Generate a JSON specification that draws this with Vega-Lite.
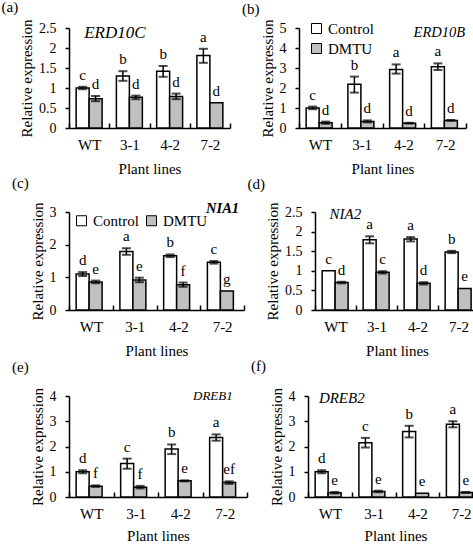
{
  "$schema": "https://vega.github.io/schema/vega-lite/v6.json",
  "padding": {"left": 1, "top": 0, "right": 0, "bottom": 0},
  "datasets": {
    "d": [
      {"panel": "a", "line": "WT", "trt": "Control", "v": 1.0, "lo": 0.97, "hi": 1.03, "lab": "c"},
      {"panel": "a", "line": "3-1", "trt": "Control", "v": 1.30, "lo": 1.18, "hi": 1.42, "lab": "b"},
      {"panel": "a", "line": "4-2", "trt": "Control", "v": 1.42, "lo": 1.28, "hi": 1.55, "lab": "b"},
      {"panel": "a", "line": "7-2", "trt": "Control", "v": 1.81, "lo": 1.63, "hi": 1.98, "lab": "a"},
      {"panel": "a", "line": "WT", "trt": "DMTU", "v": 0.73, "lo": 0.67, "hi": 0.80, "lab": "d"},
      {"panel": "a", "line": "3-1", "trt": "DMTU", "v": 0.77, "lo": 0.72, "hi": 0.81, "lab": "d"},
      {"panel": "a", "line": "4-2", "trt": "DMTU", "v": 0.79, "lo": 0.72, "hi": 0.86, "lab": "d"},
      {"panel": "a", "line": "7-2", "trt": "DMTU", "v": 0.63, "lo": 0.63, "hi": 0.63, "lab": "d"},
      {"panel": "b", "line": "WT", "trt": "Control", "v": 1.0, "lo": 0.94, "hi": 1.07, "lab": "c"},
      {"panel": "b", "line": "3-1", "trt": "Control", "v": 2.19, "lo": 1.77, "hi": 2.57, "lab": "b"},
      {"panel": "b", "line": "4-2", "trt": "Control", "v": 2.93, "lo": 2.72, "hi": 3.18, "lab": "a"},
      {"panel": "b", "line": "7-2", "trt": "Control", "v": 3.06, "lo": 2.90, "hi": 3.23, "lab": "a"},
      {"panel": "b", "line": "WT", "trt": "DMTU", "v": 0.26, "lo": 0.21, "hi": 0.32, "lab": "d"},
      {"panel": "b", "line": "3-1", "trt": "DMTU", "v": 0.33, "lo": 0.28, "hi": 0.38, "lab": "d"},
      {"panel": "b", "line": "4-2", "trt": "DMTU", "v": 0.24, "lo": 0.22, "hi": 0.26, "lab": "d"},
      {"panel": "b", "line": "7-2", "trt": "DMTU", "v": 0.38, "lo": 0.36, "hi": 0.40, "lab": "d"},
      {"panel": "c", "line": "WT", "trt": "Control", "v": 1.10, "lo": 1.04, "hi": 1.16, "lab": "d"},
      {"panel": "c", "line": "3-1", "trt": "Control", "v": 1.79, "lo": 1.69, "hi": 1.89, "lab": "a"},
      {"panel": "c", "line": "4-2", "trt": "Control", "v": 1.66, "lo": 1.62, "hi": 1.70, "lab": "b"},
      {"panel": "c", "line": "7-2", "trt": "Control", "v": 1.46, "lo": 1.42, "hi": 1.50, "lab": "c"},
      {"panel": "c", "line": "WT", "trt": "DMTU", "v": 0.86, "lo": 0.82, "hi": 0.90, "lab": "e"},
      {"panel": "c", "line": "3-1", "trt": "DMTU", "v": 0.92, "lo": 0.85, "hi": 0.99, "lab": "e"},
      {"panel": "c", "line": "4-2", "trt": "DMTU", "v": 0.77, "lo": 0.71, "hi": 0.84, "lab": "f"},
      {"panel": "c", "line": "7-2", "trt": "DMTU", "v": 0.58, "lo": 0.58, "hi": 0.58, "lab": "g"},
      {"panel": "d", "line": "WT", "trt": "Control", "v": 1.0, "lo": 1.0, "hi": 1.0, "lab": "c"},
      {"panel": "d", "line": "3-1", "trt": "Control", "v": 1.79, "lo": 1.70, "hi": 1.88, "lab": "a"},
      {"panel": "d", "line": "4-2", "trt": "Control", "v": 1.81, "lo": 1.75, "hi": 1.86, "lab": "a"},
      {"panel": "d", "line": "7-2", "trt": "Control", "v": 1.48, "lo": 1.45, "hi": 1.51, "lab": "b"},
      {"panel": "d", "line": "WT", "trt": "DMTU", "v": 0.70, "lo": 0.68, "hi": 0.72, "lab": "d"},
      {"panel": "d", "line": "3-1", "trt": "DMTU", "v": 0.96, "lo": 0.93, "hi": 0.99, "lab": "c"},
      {"panel": "d", "line": "4-2", "trt": "DMTU", "v": 0.68, "lo": 0.65, "hi": 0.71, "lab": "d"},
      {"panel": "d", "line": "7-2", "trt": "DMTU", "v": 0.55, "lo": 0.55, "hi": 0.55, "lab": "e"},
      {"panel": "e", "line": "WT", "trt": "Control", "v": 1.0, "lo": 0.94, "hi": 1.06, "lab": "d"},
      {"panel": "e", "line": "3-1", "trt": "Control", "v": 1.33, "lo": 1.12, "hi": 1.52, "lab": "c"},
      {"panel": "e", "line": "4-2", "trt": "Control", "v": 1.90, "lo": 1.70, "hi": 2.08, "lab": "b"},
      {"panel": "e", "line": "7-2", "trt": "Control", "v": 2.36, "lo": 2.23, "hi": 2.48, "lab": "a"},
      {"panel": "e", "line": "WT", "trt": "DMTU", "v": 0.43, "lo": 0.40, "hi": 0.46, "lab": "f"},
      {"panel": "e", "line": "3-1", "trt": "DMTU", "v": 0.39, "lo": 0.34, "hi": 0.44, "lab": "f"},
      {"panel": "e", "line": "4-2", "trt": "DMTU", "v": 0.64, "lo": 0.62, "hi": 0.66, "lab": "e"},
      {"panel": "e", "line": "7-2", "trt": "DMTU", "v": 0.57, "lo": 0.52, "hi": 0.62, "lab": "ef"},
      {"panel": "f", "line": "WT", "trt": "Control", "v": 1.0, "lo": 0.94, "hi": 1.06, "lab": "d"},
      {"panel": "f", "line": "3-1", "trt": "Control", "v": 2.15, "lo": 1.96, "hi": 2.34, "lab": "c"},
      {"panel": "f", "line": "4-2", "trt": "Control", "v": 2.59, "lo": 2.36, "hi": 2.82, "lab": "b"},
      {"panel": "f", "line": "7-2", "trt": "Control", "v": 2.88, "lo": 2.76, "hi": 3.0, "lab": "a"},
      {"panel": "f", "line": "WT", "trt": "DMTU", "v": 0.17, "lo": 0.14, "hi": 0.20, "lab": "e"},
      {"panel": "f", "line": "3-1", "trt": "DMTU", "v": 0.22, "lo": 0.19, "hi": 0.25, "lab": "e"},
      {"panel": "f", "line": "4-2", "trt": "DMTU", "v": 0.15, "lo": 0.15, "hi": 0.15, "lab": "e"},
      {"panel": "f", "line": "7-2", "trt": "DMTU", "v": 0.18, "lo": 0.16, "hi": 0.20, "lab": "e"}
    ]
  },
  "resolve": {"scale": {"fill": "independent"}, "legend": {"fill": "independent"}},
  "spacing": 0,
  "vconcat": [
    {
      "resolve": {"scale": {"fill": "independent"}, "legend": {"fill": "independent"}},
      "spacing": 10,
      "hconcat": [
        {
          "width": 161, "height": 100,
          "title": {"text": "(a)", "offset": 4},
          "data": {"name": "d"},
          "transform": [{"filter": "datum.panel == 'a'"}],
          "encoding": {
            "x": {"field": "line", "type": "nominal", "sort": ["WT", "3-1", "4-2", "7-2"], "scale": {"paddingInner": 0, "paddingOuter": 0}, "axis": {"title": "Plant lines"}}
          },
          "layer": [
            {"mark": {"type": "bar", "stroke": "black", "strokeWidth": 1.5},
             "encoding": {
               "xOffset": {"field": "trt", "type": "nominal", "sort": ["Control", "DMTU"], "scale": {"paddingOuter": 0.55, "paddingInner": 0}},
               "y": {"field": "v", "type": "quantitative", "scale": {"domain": [0, 2.5], "nice": false}, "axis": {"title": "Relative expression", "values": [0, 0.5, 1, 1.5, 2, 2.5]}},
               "fill": {"field": "trt", "type": "nominal", "scale": {"domain": ["Control", "DMTU"], "range": ["white", "#c0c0c0"]}, "legend": null}}},
            {"transform": [{"filter": "datum.hi > datum.lo"}], "mark": {"type": "rule", "strokeWidth": 1.5, "color": "black"},
             "encoding": {"xOffset": {"field": "trt", "type": "nominal", "sort": ["Control", "DMTU"]}, "y": {"field": "lo", "type": "quantitative", "axis": {"title": "Relative expression", "values": [0, 0.5, 1, 1.5, 2, 2.5]}}, "y2": {"field": "hi"}}},
            {"transform": [{"filter": "datum.hi > datum.lo"}], "mark": {"type": "tick", "color": "black", "thickness": 2, "size": 9},
             "encoding": {"xOffset": {"field": "trt", "type": "nominal", "sort": ["Control", "DMTU"]}, "y": {"field": "hi", "type": "quantitative", "axis": {"title": "Relative expression", "values": [0, 0.5, 1, 1.5, 2, 2.5]}}}},
            {"transform": [{"filter": "datum.hi > datum.lo"}], "mark": {"type": "tick", "color": "black", "thickness": 2, "size": 9},
             "encoding": {"xOffset": {"field": "trt", "type": "nominal", "sort": ["Control", "DMTU"]}, "y": {"field": "lo", "type": "quantitative", "axis": {"title": "Relative expression", "values": [0, 0.5, 1, 1.5, 2, 2.5]}}}},
            {"mark": {"type": "text", "baseline": "bottom", "dy": -4, "fontSize": 15},
             "encoding": {"xOffset": {"field": "trt", "type": "nominal", "sort": ["Control", "DMTU"]}, "y": {"field": "hi", "type": "quantitative", "axis": {"title": "Relative expression", "values": [0, 0.5, 1, 1.5, 2, 2.5]}}, "text": {"field": "lab"}}},
            {"data": {"values": [{"gene": "ERD10C"}]},
             "mark": {"type": "text", "fontStyle": "italic", "fontSize": 17, "align": "left", "baseline": "alphabetic", "dx": -5, "dy": 10},
             "encoding": {"x": {"datum": "WT"}, "y": {"datum": 2.5, "axis": {"title": "Relative expression", "values": [0, 0.5, 1, 1.5, 2, 2.5]}}, "text": {"field": "gene"}}}
          ]
        },
        {
          "width": 167, "height": 100,
          "title": {"text": "(b)", "offset": 2.5},
          "data": {"name": "d"},
          "transform": [{"filter": "datum.panel == 'b'"}],
          "encoding": {
            "x": {"field": "line", "type": "nominal", "sort": ["WT", "3-1", "4-2", "7-2"], "scale": {"paddingInner": 0, "paddingOuter": 0}, "axis": {"title": "Plant lines"}}
          },
          "layer": [
            {"mark": {"type": "bar", "stroke": "black", "strokeWidth": 1.5},
             "encoding": {
               "xOffset": {"field": "trt", "type": "nominal", "sort": ["Control", "DMTU"], "scale": {"paddingOuter": 0.57, "paddingInner": 0}},
               "y": {"field": "v", "type": "quantitative", "scale": {"domain": [0, 5], "nice": false}, "axis": {"title": "Relative expression", "values": [0, 1, 2, 3, 4, 5]}},
               "fill": {"field": "trt", "type": "nominal", "scale": {"domain": ["Control", "DMTU"], "range": ["white", "#c0c0c0"]},
                        "legend": {"title": null, "orient": "none", "legendX": 10, "legendY": -7, "direction": "vertical"}}}},
            {"transform": [{"filter": "datum.hi > datum.lo"}], "mark": {"type": "rule", "strokeWidth": 1.5, "color": "black"},
             "encoding": {"xOffset": {"field": "trt", "type": "nominal", "sort": ["Control", "DMTU"]}, "y": {"field": "lo", "type": "quantitative", "axis": {"title": "Relative expression", "values": [0, 1, 2, 3, 4, 5]}}, "y2": {"field": "hi"}}},
            {"transform": [{"filter": "datum.hi > datum.lo"}], "mark": {"type": "tick", "color": "black", "thickness": 2, "size": 9},
             "encoding": {"xOffset": {"field": "trt", "type": "nominal", "sort": ["Control", "DMTU"]}, "y": {"field": "hi", "type": "quantitative", "axis": {"title": "Relative expression", "values": [0, 1, 2, 3, 4, 5]}}}},
            {"transform": [{"filter": "datum.hi > datum.lo"}], "mark": {"type": "tick", "color": "black", "thickness": 2, "size": 9},
             "encoding": {"xOffset": {"field": "trt", "type": "nominal", "sort": ["Control", "DMTU"]}, "y": {"field": "lo", "type": "quantitative", "axis": {"title": "Relative expression", "values": [0, 1, 2, 3, 4, 5]}}}},
            {"mark": {"type": "text", "baseline": "bottom", "dy": -4, "fontSize": 15},
             "encoding": {"xOffset": {"field": "trt", "type": "nominal", "sort": ["Control", "DMTU"]}, "y": {"field": "hi", "type": "quantitative", "axis": {"title": "Relative expression", "values": [0, 1, 2, 3, 4, 5]}}, "text": {"field": "lab"}}},
            {"data": {"values": [{"gene": "ERD10B"}]},
             "mark": {"type": "text", "fontStyle": "italic", "fontSize": 14.5, "align": "right", "baseline": "alphabetic", "dx": 20, "dy": 8.5},
             "encoding": {"x": {"datum": "7-2"}, "y": {"datum": 5, "axis": {"title": "Relative expression", "values": [0, 1, 2, 3, 4, 5]}}, "text": {"field": "gene"}}}
          ]
        }
      ]
    },
    {
      "resolve": {"scale": {"fill": "independent"}, "legend": {"fill": "independent"}},
      "spacing": 2,
      "hconcat": [
        {
          "width": 175, "height": 98,
          "title": {"text": "(c)", "offset": 10},
          "data": {"name": "d"},
          "transform": [{"filter": "datum.panel == 'c'"}],
          "encoding": {
            "x": {"field": "line", "type": "nominal", "sort": ["WT", "3-1", "4-2", "7-2"], "scale": {"paddingInner": 0, "paddingOuter": 0}, "axis": {"title": "Plant lines"}}
          },
          "layer": [
            {"mark": {"type": "bar", "stroke": "black", "strokeWidth": 1.5},
             "encoding": {
               "xOffset": {"field": "trt", "type": "nominal", "sort": ["Control", "DMTU"], "scale": {"paddingOuter": 0.75, "paddingInner": 0}},
               "y": {"field": "v", "type": "quantitative", "scale": {"domain": [0, 3], "nice": false}, "axis": {"title": "Relative expression", "values": [0, 1, 2, 3]}},
               "fill": {"field": "trt", "type": "nominal", "scale": {"domain": ["Control", "DMTU"], "range": ["white", "#c0c0c0"]},
                        "legend": {"title": null, "orient": "none", "legendX": 5, "legendY": 1, "direction": "horizontal"}}}},
            {"transform": [{"filter": "datum.hi > datum.lo"}], "mark": {"type": "rule", "strokeWidth": 1.5, "color": "black"},
             "encoding": {"xOffset": {"field": "trt", "type": "nominal", "sort": ["Control", "DMTU"]}, "y": {"field": "lo", "type": "quantitative", "axis": {"title": "Relative expression", "values": [0, 1, 2, 3]}}, "y2": {"field": "hi"}}},
            {"transform": [{"filter": "datum.hi > datum.lo"}], "mark": {"type": "tick", "color": "black", "thickness": 2, "size": 9},
             "encoding": {"xOffset": {"field": "trt", "type": "nominal", "sort": ["Control", "DMTU"]}, "y": {"field": "hi", "type": "quantitative", "axis": {"title": "Relative expression", "values": [0, 1, 2, 3]}}}},
            {"transform": [{"filter": "datum.hi > datum.lo"}], "mark": {"type": "tick", "color": "black", "thickness": 2, "size": 9},
             "encoding": {"xOffset": {"field": "trt", "type": "nominal", "sort": ["Control", "DMTU"]}, "y": {"field": "lo", "type": "quantitative", "axis": {"title": "Relative expression", "values": [0, 1, 2, 3]}}}},
            {"mark": {"type": "text", "baseline": "bottom", "dy": -4, "fontSize": 15},
             "encoding": {"xOffset": {"field": "trt", "type": "nominal", "sort": ["Control", "DMTU"]}, "y": {"field": "hi", "type": "quantitative", "axis": {"title": "Relative expression", "values": [0, 1, 2, 3]}}, "text": {"field": "lab"}}},
            {"data": {"values": [{"gene": "NIA1"}]},
             "mark": {"type": "text", "fontStyle": "italic", "fontWeight": "bold", "fontSize": 14.5, "align": "right", "baseline": "alphabetic", "dx": 17, "dy": 1},
             "encoding": {"x": {"datum": "7-2"}, "y": {"datum": 3, "axis": {"title": "Relative expression", "values": [0, 1, 2, 3]}}, "text": {"field": "gene"}}}
          ]
        },
        {
          "width": 164, "height": 98,
          "title": {"text": "(d)", "offset": 10.5},
          "data": {"name": "d"},
          "transform": [{"filter": "datum.panel == 'd'"}],
          "encoding": {
            "x": {"field": "line", "type": "nominal", "sort": ["WT", "3-1", "4-2", "7-2"], "scale": {"paddingInner": 0, "paddingOuter": 0}, "axis": {"title": "Plant lines"}}
          },
          "layer": [
            {"mark": {"type": "bar", "stroke": "black", "strokeWidth": 1.5},
             "encoding": {
               "xOffset": {"field": "trt", "type": "nominal", "sort": ["Control", "DMTU"], "scale": {"paddingOuter": 0.6, "paddingInner": 0}},
               "y": {"field": "v", "type": "quantitative", "scale": {"domain": [0, 2.5], "nice": false}, "axis": {"title": "Relative expression", "values": [0, 0.5, 1, 1.5, 2, 2.5]}},
               "fill": {"field": "trt", "type": "nominal", "scale": {"domain": ["Control", "DMTU"], "range": ["white", "#c0c0c0"]}, "legend": null}}},
            {"transform": [{"filter": "datum.hi > datum.lo"}], "mark": {"type": "rule", "strokeWidth": 1.5, "color": "black"},
             "encoding": {"xOffset": {"field": "trt", "type": "nominal", "sort": ["Control", "DMTU"]}, "y": {"field": "lo", "type": "quantitative", "axis": {"title": "Relative expression", "values": [0, 0.5, 1, 1.5, 2, 2.5]}}, "y2": {"field": "hi"}}},
            {"transform": [{"filter": "datum.hi > datum.lo"}], "mark": {"type": "tick", "color": "black", "thickness": 2, "size": 9},
             "encoding": {"xOffset": {"field": "trt", "type": "nominal", "sort": ["Control", "DMTU"]}, "y": {"field": "hi", "type": "quantitative", "axis": {"title": "Relative expression", "values": [0, 0.5, 1, 1.5, 2, 2.5]}}}},
            {"transform": [{"filter": "datum.hi > datum.lo"}], "mark": {"type": "tick", "color": "black", "thickness": 2, "size": 9},
             "encoding": {"xOffset": {"field": "trt", "type": "nominal", "sort": ["Control", "DMTU"]}, "y": {"field": "lo", "type": "quantitative", "axis": {"title": "Relative expression", "values": [0, 0.5, 1, 1.5, 2, 2.5]}}}},
            {"mark": {"type": "text", "baseline": "bottom", "dy": -4, "fontSize": 15},
             "encoding": {"xOffset": {"field": "trt", "type": "nominal", "sort": ["Control", "DMTU"]}, "y": {"field": "hi", "type": "quantitative", "axis": {"title": "Relative expression", "values": [0, 0.5, 1, 1.5, 2, 2.5]}}, "text": {"field": "lab"}}},
            {"data": {"values": [{"gene": "NIA2"}]},
             "mark": {"type": "text", "fontStyle": "italic", "fontSize": 15, "align": "left", "baseline": "alphabetic", "dx": -6, "dy": 7},
             "encoding": {"x": {"datum": "WT"}, "y": {"datum": 2.5, "axis": {"title": "Relative expression", "values": [0, 0.5, 1, 1.5, 2, 2.5]}}, "text": {"field": "gene"}}}
          ]
        }
      ]
    },
    {
      "resolve": {"scale": {"fill": "independent"}, "legend": {"fill": "independent"}},
      "spacing": 2,
      "hconcat": [
        {
          "width": 178, "height": 101,
          "title": {"text": "(e)", "offset": 13},
          "data": {"name": "d"},
          "transform": [{"filter": "datum.panel == 'e'"}],
          "encoding": {
            "x": {"field": "line", "type": "nominal", "sort": ["WT", "3-1", "4-2", "7-2"], "scale": {"paddingInner": 0, "paddingOuter": 0}, "axis": {"title": "Plant lines", "titlePadding": 7}}
          },
          "layer": [
            {"mark": {"type": "bar", "stroke": "black", "strokeWidth": 1.5},
             "encoding": {
               "xOffset": {"field": "trt", "type": "nominal", "sort": ["Control", "DMTU"], "scale": {"paddingOuter": 0.71, "paddingInner": 0}},
               "y": {"field": "v", "type": "quantitative", "scale": {"domain": [0, 4], "nice": false}, "axis": {"title": "Relative expression", "values": [0, 1, 2, 3, 4]}},
               "fill": {"field": "trt", "type": "nominal", "scale": {"domain": ["Control", "DMTU"], "range": ["white", "#c0c0c0"]}, "legend": null}}},
            {"transform": [{"filter": "datum.hi > datum.lo"}], "mark": {"type": "rule", "strokeWidth": 1.5, "color": "black"},
             "encoding": {"xOffset": {"field": "trt", "type": "nominal", "sort": ["Control", "DMTU"]}, "y": {"field": "lo", "type": "quantitative", "axis": {"title": "Relative expression", "values": [0, 1, 2, 3, 4]}}, "y2": {"field": "hi"}}},
            {"transform": [{"filter": "datum.hi > datum.lo"}], "mark": {"type": "tick", "color": "black", "thickness": 2, "size": 9},
             "encoding": {"xOffset": {"field": "trt", "type": "nominal", "sort": ["Control", "DMTU"]}, "y": {"field": "hi", "type": "quantitative", "axis": {"title": "Relative expression", "values": [0, 1, 2, 3, 4]}}}},
            {"transform": [{"filter": "datum.hi > datum.lo"}], "mark": {"type": "tick", "color": "black", "thickness": 2, "size": 9},
             "encoding": {"xOffset": {"field": "trt", "type": "nominal", "sort": ["Control", "DMTU"]}, "y": {"field": "lo", "type": "quantitative", "axis": {"title": "Relative expression", "values": [0, 1, 2, 3, 4]}}}},
            {"mark": {"type": "text", "baseline": "bottom", "dy": -4, "fontSize": 15},
             "encoding": {"xOffset": {"field": "trt", "type": "nominal", "sort": ["Control", "DMTU"]}, "y": {"field": "hi", "type": "quantitative", "axis": {"title": "Relative expression", "values": [0, 1, 2, 3, 4]}}, "text": {"field": "lab"}}},
            {"data": {"values": [{"gene": "DREB1"}]},
             "mark": {"type": "text", "fontStyle": "italic", "fontSize": 13, "align": "right", "baseline": "alphabetic", "dx": 8, "dy": 4},
             "encoding": {"x": {"datum": "7-2"}, "y": {"datum": 4, "axis": {"title": "Relative expression", "values": [0, 1, 2, 3, 4]}}, "text": {"field": "gene"}}}
          ]
        },
        {
          "width": 175, "height": 101,
          "title": {"text": "(f)", "offset": 14},
          "data": {"name": "d"},
          "transform": [{"filter": "datum.panel == 'f'"}],
          "encoding": {
            "x": {"field": "line", "type": "nominal", "sort": ["WT", "3-1", "4-2", "7-2"], "scale": {"paddingInner": 0, "paddingOuter": 0}, "axis": {"title": "Plant lines", "titlePadding": 7}}
          },
          "layer": [
            {"mark": {"type": "bar", "stroke": "black", "strokeWidth": 1.5},
             "encoding": {
               "xOffset": {"field": "trt", "type": "nominal", "sort": ["Control", "DMTU"], "scale": {"paddingOuter": 0.72, "paddingInner": 0}},
               "y": {"field": "v", "type": "quantitative", "scale": {"domain": [0, 4], "nice": false}, "axis": {"title": "Relative expression", "values": [0, 1, 2, 3, 4]}},
               "fill": {"field": "trt", "type": "nominal", "scale": {"domain": ["Control", "DMTU"], "range": ["white", "#c0c0c0"]}, "legend": null}}},
            {"transform": [{"filter": "datum.hi > datum.lo"}], "mark": {"type": "rule", "strokeWidth": 1.5, "color": "black"},
             "encoding": {"xOffset": {"field": "trt", "type": "nominal", "sort": ["Control", "DMTU"]}, "y": {"field": "lo", "type": "quantitative", "axis": {"title": "Relative expression", "values": [0, 1, 2, 3, 4]}}, "y2": {"field": "hi"}}},
            {"transform": [{"filter": "datum.hi > datum.lo"}], "mark": {"type": "tick", "color": "black", "thickness": 2, "size": 9},
             "encoding": {"xOffset": {"field": "trt", "type": "nominal", "sort": ["Control", "DMTU"]}, "y": {"field": "hi", "type": "quantitative", "axis": {"title": "Relative expression", "values": [0, 1, 2, 3, 4]}}}},
            {"transform": [{"filter": "datum.hi > datum.lo"}], "mark": {"type": "tick", "color": "black", "thickness": 2, "size": 9},
             "encoding": {"xOffset": {"field": "trt", "type": "nominal", "sort": ["Control", "DMTU"]}, "y": {"field": "lo", "type": "quantitative", "axis": {"title": "Relative expression", "values": [0, 1, 2, 3, 4]}}}},
            {"mark": {"type": "text", "baseline": "bottom", "dy": -4, "fontSize": 15},
             "encoding": {"xOffset": {"field": "trt", "type": "nominal", "sort": ["Control", "DMTU"]}, "y": {"field": "hi", "type": "quantitative", "axis": {"title": "Relative expression", "values": [0, 1, 2, 3, 4]}}, "text": {"field": "lab"}}},
            {"data": {"values": [{"gene": "DREB2"}]},
             "mark": {"type": "text", "fontStyle": "italic", "fontSize": 15, "align": "left", "baseline": "alphabetic", "dx": -11, "dy": 7},
             "encoding": {"x": {"datum": "WT"}, "y": {"datum": 4, "axis": {"title": "Relative expression", "values": [0, 1, 2, 3, 4]}}, "text": {"field": "gene"}}}
          ]
        }
      ]
    }
  ],
  "config": {
    "font": "'Liberation Serif', 'Times New Roman', serif",
    "view": {"stroke": null},
    "axis": {"grid": false, "domainColor": "black", "domainWidth": 1.5, "tickColor": "black", "tickWidth": 1.5,
             "labelColor": "black", "titleColor": "black", "titleFontWeight": "normal", "titleFontSize": 15,
             "labelFont": "'Liberation Serif', 'Times New Roman', serif", "titleFont": "'Liberation Serif', 'Times New Roman', serif", "labelOverlap": false, "labelBound": false},
    "axisX": {"tickBand": "extent", "tickSize": -5, "labelFontSize": 15, "labelPadding": 14, "labelAngle": 0, "titlePadding": 9},
    "axisY": {"tickSize": 4, "labelFontSize": 14, "labelPadding": 9, "titlePadding": 4, "format": "~g", "labelFlush": false},
    "title": {"font": "'Liberation Serif', 'Times New Roman', serif", "fontSize": 15, "fontWeight": "normal", "anchor": "start", "frame": "bounds", "dx": -18, "color": "black"},
    "legend": {"symbolType": "square", "symbolSize": 100, "symbolStrokeColor": "black", "symbolStrokeWidth": 1,
               "labelFontSize": 15, "labelFont": "'Liberation Serif', 'Times New Roman', serif", "labelColor": "black", "labelOffset": 4,
               "rowPadding": 4, "columnPadding": 5, "padding": 0},
    "text": {"color": "black", "font": "'Liberation Serif', 'Times New Roman', serif"}
  }
}
